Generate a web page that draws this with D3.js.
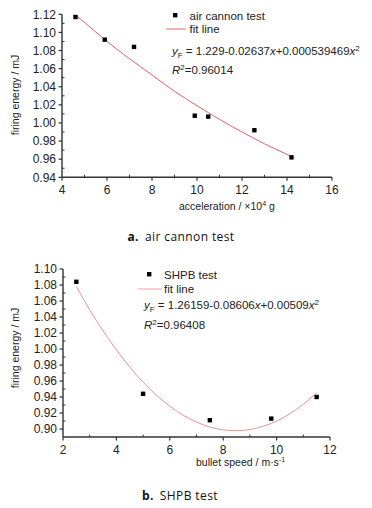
<!DOCTYPE html>
<html><head><meta charset="utf-8">
<script src="https://cdn.jsdelivr.net/npm/d3@7"></script>
<style>
body{margin:0;background:#fff;}
svg{display:block;}
.nf{font-family:"Liberation Sans Narrow","Arial Narrow","Liberation Sans",Arial,sans-serif;}
</style></head>
<body><div id="c"></div>
<script>
// ---- Chart a: air cannon test ----
const accel = [4.6, 5.9, 7.2, 9.9, 10.5, 12.55, 14.2];
const energyA = [1.117, 1.092, 1.084, 1.008, 1.007, 0.992, 0.962];
const fitAx = [4.6, 5, 6, 7, 8, 9, 10, 11, 12, 13, 14.2];
const fitAy = [1.119, 1.111, 1.090, 1.071, 1.053, 1.035, 1.019, 1.004, 0.990, 0.977, 0.963];
const xTicksA = [4, 6, 8, 10, 12, 14, 16];
const yTicksA = [0.94, 0.96, 0.98, 1.00, 1.02, 1.04, 1.06, 1.08, 1.10, 1.12];

// ---- Chart b: SHPB test ----
const speed = [2.5, 5.0, 7.5, 9.8, 11.5];
const energyB = [1.084, 0.944, 0.911, 0.913, 0.940];
const fitBx = [2.5, 3, 4, 5, 6, 7, 8, 8.5, 9, 10, 11, 11.5];
const fitBy = [1.078, 1.049, 0.999, 0.9585, 0.9285, 0.9086, 0.8989, 0.8978, 0.8993, 0.910, 0.9308, 0.9451];
const xTicksB = [2, 4, 6, 8, 10, 12];
const yTicksB = [0.90, 0.92, 0.94, 0.96, 0.98, 1.00, 1.02, 1.04, 1.06, 1.08, 1.10];

const W = 372, H = 508;
const svg = d3.select("#c").append("svg").attr("width", W).attr("height", H);
svg.append("rect").attr("width", W).attr("height", H).attr("fill", "#fff");

const axisCol = "#333";

function panel(o) {
  const g = svg.append("g");
  const x = d3.scaleLinear().domain(o.xd).range(o.xr);
  const y = d3.scaleLinear().domain(o.yd).range(o.yr);
  const x0 = o.xr[0], y0 = o.yr[0];
  // minor ticks (inward)
  const xMinor = [];
  for (let i = 0; i < o.xt.length - 1; i++) xMinor.push((o.xt[i] + o.xt[i + 1]) / 2);
  const yMinor = [];
  for (let i = 0; i < o.yt.length - 1; i++) yMinor.push((o.yt[i] + o.yt[i + 1]) / 2);
  g.selectAll(".xm").data(xMinor).enter().append("line")
    .attr("x1", d => x(d)).attr("x2", d => x(d)).attr("y1", y0).attr("y2", y0 - 2.5)
    .attr("stroke", axisCol).attr("stroke-width", 1);
  g.selectAll(".ym").data(yMinor).enter().append("line")
    .attr("y1", d => y(d)).attr("y2", d => y(d)).attr("x1", x0).attr("x2", x0 + 2.5)
    .attr("stroke", axisCol).attr("stroke-width", 1);
  // major ticks outward
  g.selectAll(".xM").data(o.xt).enter().append("line")
    .attr("x1", d => x(d)).attr("x2", d => x(d)).attr("y1", y0).attr("y2", y0 + 3.5)
    .attr("stroke", axisCol).attr("stroke-width", 1.2);
  g.selectAll(".yM").data(o.yt).enter().append("line")
    .attr("y1", d => y(d)).attr("y2", d => y(d)).attr("x1", x0).attr("x2", x0 - 3.5)
    .attr("stroke", axisCol).attr("stroke-width", 1.2);
  // axis lines
  g.append("line").attr("x1", x0).attr("x2", o.xr[1]).attr("y1", y0).attr("y2", y0)
    .attr("stroke", axisCol).attr("stroke-width", 1.4);
  g.append("line").attr("x1", x0).attr("x2", x0).attr("y1", y0).attr("y2", o.yr[1])
    .attr("stroke", axisCol).attr("stroke-width", 1.4);
  // tick labels
  g.selectAll(".xl").data(o.xt).enter().append("text").attr("class", "nf")
    .attr("x", d => x(d)).attr("y", y0 + 16.5).attr("text-anchor", "middle")
    .attr("font-size", 12).attr("fill", "#222").text(d => d);
  g.selectAll(".yl").data(o.yt).enter().append("text").attr("class", "nf")
    .attr("x", x0 - 6).attr("y", d => y(d) + 4.2).attr("text-anchor", "end")
    .attr("font-size", 12).attr("fill", "#222").text(d => d.toFixed(2));
  // fit line
  const line = d3.line().x(d => x(d[0])).y(d => y(d[1])).curve(d3.curveMonotoneX);
  g.append("path").datum(d3.zip(o.fx, o.fy)).attr("d", line)
    .attr("fill", "none").attr("stroke", o.fitCol).attr("stroke-width", 1);
  // points
  g.selectAll(".pt").data(d3.zip(o.px, o.py)).enter().append("rect")
    .attr("x", d => x(d[0]) - 2.2).attr("y", d => y(d[1]) - 2.2)
    .attr("width", 4.4).attr("height", 4.4).attr("fill", "#000");
  return {g, x, y};
}

// Panel a
const A = panel({xd: [4, 16], xr: [62, 332], yd: [0.94, 1.12], yr: [177.3, 14.3],
  xt: xTicksA, yt: yTicksA, fx: fitAx, fy: fitAy, px: accel, py: energyA, fitCol: "#e0606c"});
// Panel b
const B = panel({xd: [2, 12], xr: [63, 330], yd: [0.89, 1.10], yr: [437, 269],
  xt: xTicksB, yt: yTicksB, fx: fitBx, fy: fitBy, px: speed, py: energyB, fitCol: "#e8929a"});

function txt(x, y, size, s, anchor) {
  return svg.append("text").attr("class", "nf").attr("x", x).attr("y", y)
    .attr("font-size", size).attr("fill", "#222").attr("text-anchor", anchor || "start").text(s);
}

// Legend a
svg.append("rect").attr("x", 173).attr("y", 13).attr("width", 4.4).attr("height", 4.4).attr("fill", "#000");
txt(189.5, 19.5, 11.5, "air cannon test");
svg.append("line").attr("x1", 166).attr("x2", 186).attr("y1", 29).attr("y2", 29).attr("stroke", "#f08a98").attr("stroke-width", 1.3);
txt(189.5, 33, 11.5, "fit line");
let t = txt(172, 55, 11.5, "");
t.append("tspan").attr("font-style", "italic").text("y");
t.append("tspan").attr("font-size", 8).attr("dy", 2.5).text("F");
t.append("tspan").attr("dy", -2.5).text(" = 1.229-0.02637");
t.append("tspan").attr("font-style", "italic").text("x");
t.append("tspan").text("+0.000539469");
t.append("tspan").attr("font-style", "italic").text("x");
t.append("tspan").attr("font-size", 8).attr("dy", -4).text("2");
t = txt(172, 74, 11.5, "");
t.append("tspan").attr("font-style", "italic").text("R");
t.append("tspan").attr("font-size", 8).attr("dy", -4).text("2");
t.append("tspan").attr("dy", 4).text("=0.96014");

// Legend b
svg.append("rect").attr("x", 147).attr("y", 272).attr("width", 4.4).attr("height", 4.4).attr("fill", "#000");
txt(164, 278.5, 11.5, "SHPB test");
svg.append("line").attr("x1", 138).attr("x2", 162).attr("y1", 289).attr("y2", 289).attr("stroke", "#f0a0a8").attr("stroke-width", 1);
txt(164, 293, 11.5, "fit line");
t = txt(144, 309, 11.5, "");
t.append("tspan").attr("font-style", "italic").text("y");
t.append("tspan").attr("font-size", 8).attr("dy", 2.5).text("F");
t.append("tspan").attr("dy", -2.5).text(" = 1.26159-0.08606");
t.append("tspan").attr("font-style", "italic").text("x");
t.append("tspan").text("+0.00509");
t.append("tspan").attr("font-style", "italic").text("x");
t.append("tspan").attr("font-size", 8).attr("dy", -4).text("2");
t = txt(144, 329, 11.5, "");
t.append("tspan").attr("font-style", "italic").text("R");
t.append("tspan").attr("font-size", 8).attr("dy", -4).text("2");
t.append("tspan").attr("dy", 4).text("=0.96408");

// Axis titles
txt(179, 210, 10.5, "acceleration / ×10").append("tspan").attr("font-size", 7).attr("dy", -4).text("4");
svg.select("text:last-of-type");
// append " g"
{
  const tt = svg.selectAll("text").filter(function(){return this.textContent.startsWith("acceleration");});
  tt.append("tspan").attr("dy", 4).text(" g");
}
t = txt(196, 466, 10.5, "bullet speed / m·s");
t.append("tspan").attr("font-size", 7).attr("dy", -4).text("-1");

svg.append("text").attr("class", "nf").attr("transform", "translate(19,95) rotate(-90)")
  .attr("text-anchor", "middle").attr("font-size", 10.5).attr("fill", "#222").text("firing energy / mJ");
svg.append("text").attr("class", "nf").attr("transform", "translate(19,348) rotate(-90)")
  .attr("text-anchor", "middle").attr("font-size", 10.5).attr("fill", "#222").text("firing energy / mJ");

// Captions
function caption(x, y, b, s) {
  const c = svg.append("text").attr("x", x).attr("y", y).attr("text-anchor", "middle")
    .attr("font-family", "'Open Sans','DejaVu Sans',sans-serif").attr("font-size", 12).attr("fill", "#111")
    .attr("letter-spacing", 0.4);
  c.append("tspan").attr("font-weight", "bold").text(b);
  c.append("tspan").attr("dx", 6).text(s);
}
caption(181, 241, "a.", "air cannon test");
caption(180, 500, "b.", "SHPB test");
</script>
</body></html>
